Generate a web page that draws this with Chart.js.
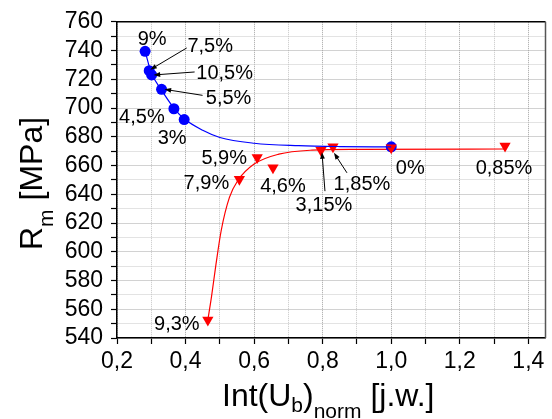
<!DOCTYPE html>
<html>
<head>
<meta charset="utf-8">
<script src="https://cdn.jsdelivr.net/npm/chart.js@4.4.0/dist/chart.umd.min.js"></script>
<style>
  html, body { margin: 0; padding: 0; background: #fff; }
  #wrap { width: 552px; height: 419px; }
</style>
</head>
<body>
<div id="wrap"><canvas id="rmChart" width="552" height="419"></canvas></div>
<script>
const blueLabels = ['9%', '7,5%', '10,5%', '5,5%', '4,5%', '3%', '0%'];
const blueX = [0.282, 0.294, 0.301, 0.330, 0.366, 0.396, 1.0];
const blueY = [739.5, 726, 723, 713, 699.5, 692, 673];

const redLabels = ['9,3%', '7,9%', '5,9%', '4,6%', '3,15%', '1,85%', '', '0,85%'];
const redX = [0.465, 0.557, 0.609, 0.655, 0.795, 0.830, 1.0, 1.332];
const redY = [552.5, 650.5, 665.5, 658.5, 670.7, 673, 672.3, 673.5];

// fitted curves
const blueFitX = [0.282, 0.30, 0.33, 0.366, 0.396, 0.45, 0.5, 0.6, 0.73, 0.85, 1.0];
const blueFitY = [739.5, 724.5, 712.5, 700, 692.5, 684.5, 679.5, 675.5, 673.8, 673.2, 673];
const redFitX = [0.465, 0.4756, 0.489, 0.504, 0.528, 0.552, 0.6, 0.672, 0.769, 0.9, 1.332];
const redFitY = [552.5, 568.6, 591.7, 614.8, 637.8, 649.4, 661, 667.9, 670.7, 671.3, 671.5];

// axis ticks
const xTickValues = [0.2, 0.3, 0.4, 0.5, 0.6, 0.7, 0.8, 0.9, 1.0, 1.1, 1.2, 1.3, 1.4];
const xTickLabels = ['0,2', '', '0,4', '', '0,6', '', '0,8', '', '1,0', '', '1,2', '', '1,4'];
const yTickValues = [540, 550, 560, 570, 580, 590, 600, 610, 620, 630, 640, 650, 660,
                     670, 680, 690, 700, 710, 720, 730, 740, 750, 760];
const yTickLabels = ['540', '', '560', '', '580', '', '600', '', '620', '', '640', '', '660',
                     '', '680', '', '700', '', '720', '', '740', '', '760'];

// label placement in pixels relative to the point: [dx, dy, arrowFromDx, arrowFromDy, arrowToDx, arrowToDy]
const blueLabelPos = [
  [7, -13], [61, -26, 37.5, -22.7, 1, -1], [73, -3, 43, -3, 2, 0], [67, 8, 41, 6, 3, 0],
  [-32, 7], [-12, 17], [19, 20]
];
const redLabelPos = [
  [-31, 3], [-33, 3], [-33, -1], [10, 17], [3, 54, 4, 41, 1, 2], [29, 36, 14, 26, 1, 6],
  null, [-1, 21]
];

const toPoints = (xs, ys) => xs.map((x, i) => ({ x: x, y: ys[i] }));

const FONT = '"Liberation Sans", Arial, sans-serif';

// top/right frame, point labels with arrows, axis titles with subscripts
const extrasPlugin = {
  id: 'extras',
  afterDraw(chart) {
    const ctx = chart.ctx;
    const area = chart.chartArea;
    const xs = chart.scales.x;
    const ys = chart.scales.y;

    ctx.save();
    ctx.lineWidth = 1.5;
    ctx.strokeStyle = '#000';
    ctx.beginPath();
    ctx.moveTo(area.left, area.top);
    ctx.lineTo(area.right, area.top);
    ctx.stroke();
    ctx.strokeStyle = '#555';
    ctx.beginPath();
    ctx.moveTo(area.right, area.top);
    ctx.lineTo(area.right, area.bottom);
    ctx.stroke();

    function drawArrow(x1, y1, x2, y2) {
      const ang = Math.atan2(y2 - y1, x2 - x1);
      const len = 7;
      ctx.strokeStyle = '#000';
      ctx.lineWidth = 1;
      ctx.beginPath();
      ctx.moveTo(x1, y1);
      ctx.lineTo(x2 - Math.cos(ang) * len * 0.8, y2 - Math.sin(ang) * len * 0.8);
      ctx.stroke();
      ctx.fillStyle = '#000';
      ctx.beginPath();
      ctx.moveTo(x2, y2);
      ctx.lineTo(x2 - len * Math.cos(ang - 0.35), y2 - len * Math.sin(ang - 0.35));
      ctx.lineTo(x2 - len * Math.cos(ang + 0.35), y2 - len * Math.sin(ang + 0.35));
      ctx.closePath();
      ctx.fill();
    }

    function labelSeries(labels, xv, yv, pos) {
      ctx.font = '20px ' + FONT;
      ctx.textAlign = 'center';
      ctx.textBaseline = 'alphabetic';
      labels.forEach((txt, i) => {
        const p = pos[i];
        if (!txt || !p) return;
        const px = xs.getPixelForValue(xv[i]);
        const py = ys.getPixelForValue(yv[i]);
        ctx.fillStyle = '#000';
        ctx.fillText(txt, px + p[0], py + p[1] + 7);
        if (p.length > 2) drawArrow(px + p[2], py + p[3], px + p[4], py + p[5]);
      });
    }
    labelSeries(blueLabels, blueX, blueY, blueLabelPos);
    labelSeries(redLabels, redX, redY, redLabelPos);

    // run of text pieces: [text, size, baseline shift]
    function drawRun(parts, x, y) {
      let cx = x;
      ctx.textAlign = 'left';
      ctx.textBaseline = 'alphabetic';
      ctx.fillStyle = '#000';
      parts.forEach(([t, size, shift]) => {
        ctx.font = size + 'px ' + FONT;
        ctx.fillText(t, cx, y + shift);
        cx += ctx.measureText(t).width;
      });
    }

    drawRun([['Int(U', 32, 0], ['b', 21, 6], [')', 32, 0], ['norm', 21, 12], [' [j.w.]', 32, 0]], 222, 406);

    ctx.translate(42, 250);
    ctx.rotate(-Math.PI / 2);
    drawRun([['R', 32, 0], ['m', 21, 11], [' [MPa]', 32, 0]], 0, 0);
    ctx.restore();
  }
};

const gridColor = (labels) => function (c) {
  return labels[c.index] ? '#a4a4a4' : '#c6c6c6';
};

new Chart(document.getElementById('rmChart'), {
  type: 'scatter',
  data: {
    datasets: [
      {
        data: toPoints(blueFitX, blueFitY),
        showLine: true,
        borderColor: '#0000ff',
        borderWidth: 1.2,
        pointRadius: 0,
        cubicInterpolationMode: 'monotone'
      },
      {
        data: toPoints(redX, redY),
        pointStyle: 'triangle',
        rotation: 180,
        pointRadius: 6.5,
        backgroundColor: '#ff0000',
        borderColor: '#ff0000',
        borderWidth: 0
      },
      {
        data: toPoints(blueX, blueY),
        pointStyle: 'circle',
        pointRadius: 5.5,
        backgroundColor: '#0000ff',
        borderColor: '#0000ff',
        borderWidth: 0
      },
      {
        data: toPoints(redFitX, redFitY),
        showLine: true,
        borderColor: '#ff0000',
        borderWidth: 1.2,
        pointRadius: 0,
        cubicInterpolationMode: 'monotone'
      }
    ]
  },
  options: {
    responsive: false,
    animation: false,
    devicePixelRatio: 1,
    layout: { padding: { left: 0, top: 20, right: 4, bottom: 0 } },
    plugins: {
      legend: { display: false },
      tooltip: { enabled: false }
    },
    scales: {
      x: {
        type: 'linear',
        min: 0.2,
        max: 1.45,
        afterBuildTicks: (scale) => { scale.ticks = xTickValues.map(v => ({ value: v })); },
        afterFit: (scale) => { scale.height = 81; },
        ticks: {
          autoSkip: false,
          maxRotation: 0,
          padding: 4,
          color: '#000',
          font: { family: FONT, size: 23 },
          callback: (v, i) => xTickLabels[i]
        },
        grid: {
          display: true,
          drawOnChartArea: true,
          color: gridColor(xTickLabels),
          lineWidth: 1,
          tickColor: '#000',
          tickLength: 6,
          tickWidth: 1.2
        },
        border: { display: true, color: '#000', width: 1.5, dash: [1, 1] }
      },
      y: {
        type: 'linear',
        min: 540,
        max: 760,
        afterBuildTicks: (scale) => { scale.ticks = yTickValues.map(v => ({ value: v })); },
        afterFit: (scale) => { scale.width = 117; },
        ticks: {
          autoSkip: false,
          padding: 8,
          color: '#000',
          font: { family: FONT, size: 23 },
          callback: (v, i) => yTickLabels[i]
        },
        grid: {
          display: true,
          drawOnChartArea: true,
          color: gridColor(yTickLabels),
          lineWidth: 1,
          tickColor: '#000',
          tickLength: 6,
          tickWidth: 1.2
        },
        border: { display: true, color: '#000', width: 1.5, dash: [1, 1] }
      }
    }
  },
  plugins: [extrasPlugin]
});
</script>
</body>
</html>
